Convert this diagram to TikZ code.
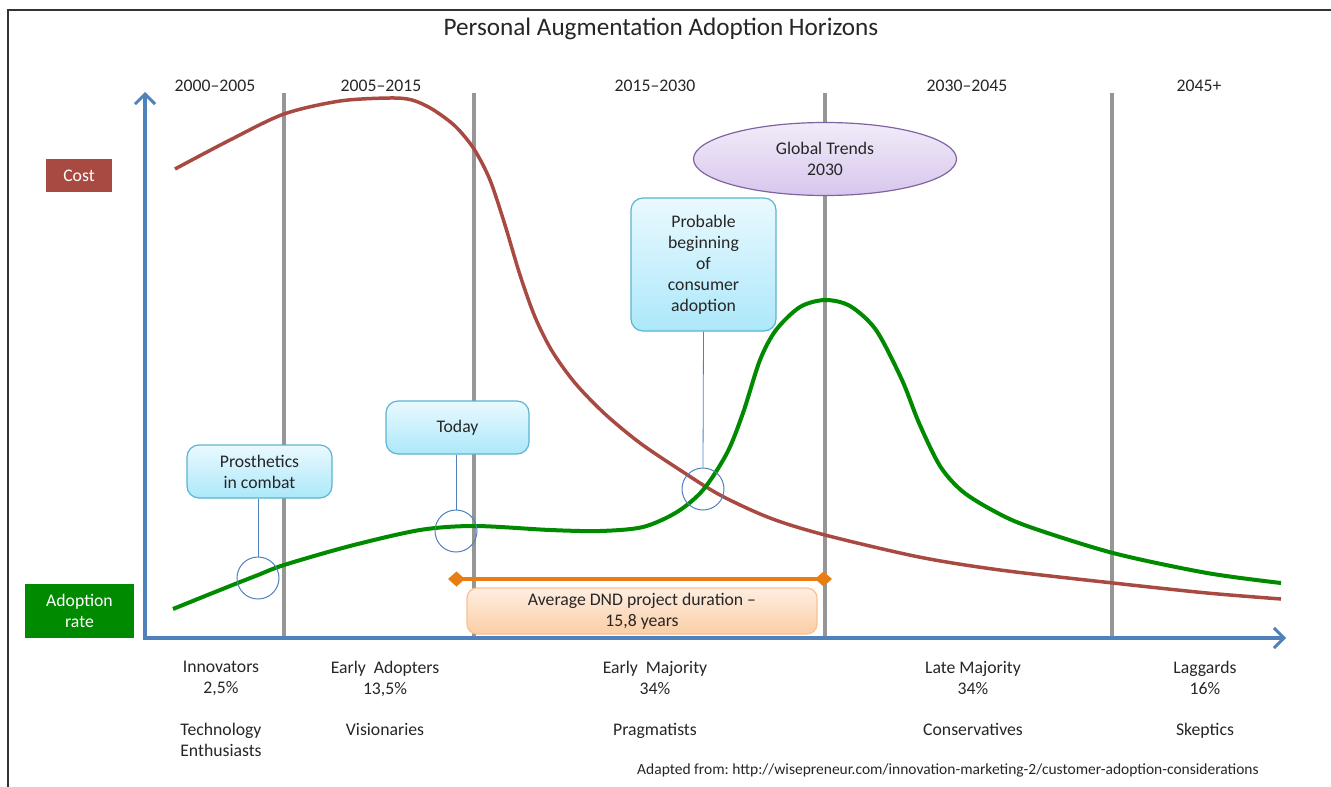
\documentclass[tikz,border=0pt]{standalone}
\usepackage{fontspec}
\setmainfont{Carlito}
\usetikzlibrary{shapes.geometric,arrows.meta,positioning}

\definecolor{axisblue}{RGB}{79,129,189}
\definecolor{costred}{RGB}{168,74,66}
\definecolor{adoptgreen}{RGB}{0,138,0}
\definecolor{gridgray}{RGB}{150,150,150}
\definecolor{durorange}{RGB}{232,125,18}
\definecolor{txtgray}{RGB}{38,38,38}
\definecolor{noteborder}{RGB}{90,180,210}
\definecolor{notetop}{RGB}{234,249,254}
\definecolor{notebottom}{RGB}{172,232,250}
\definecolor{trendborder}{RGB}{128,100,162}
\definecolor{trendtop}{RGB}{242,236,249}
\definecolor{trendbottom}{RGB}{215,198,236}
\definecolor{durborder}{RGB}{250,192,143}
\definecolor{durtop}{RGB}{254,238,225}
\definecolor{durbottom}{RGB}{251,206,166}

\begin{document}
\begin{tikzpicture}[x=1pt, y=-1pt]
  \tikzset{
    every node/.style={font=\fontsize{17.7}{21}\selectfont, text=txtgray},
    period/.style={draw=none},
    stage/.style={draw=none, align=center, anchor=north, inner sep=0pt},
    group/.style={draw=none, align=center, inner sep=0pt},
    keybox/.style={draw=none, text=white, align=center, inner sep=0pt},
    notebox/.style={draw=noteborder, line width=1.2pt, rounded corners=12pt,
      top color=notetop, bottom color=notebottom, align=center, inner sep=0pt},
    trendbox/.style={ellipse, draw=trendborder, line width=1.2pt,
      top color=trendtop, bottom color=trendbottom, align=center, inner sep=0pt},
    durbox/.style={draw=durborder, line width=1.2pt, rounded corners=10pt,
      top color=durtop, bottom color=durbottom, align=center, inner sep=0pt},
    marker/.style={circle, draw=axisblue, line width=1pt, minimum size=42pt, inner sep=0pt},
    leader/.style={draw=axisblue, line width=0.8pt},
    axis/.style={draw=axisblue, line width=4pt,
      -{Straight Barb[length=10pt, width=20pt, line width=3pt]}},
    divider/.style={draw=gridgray, line width=4pt},
    costline/.style={draw=costred, line width=3.5pt},
    adoptline/.style={draw=adoptgreen, line width=4pt},
    span/.style={draw=durorange, line width=4pt,
      {Diamond[length=17pt, width=15pt]}-{Diamond[length=17pt, width=15pt]}},
  }

  \useasboundingbox (0,0) rectangle (1331,787);
  \draw[line width=1.2pt, black!80] (8,787) -- (8,10) -- (1331,10);

  \node[font=\fontsize{25.2}{30}\selectfont] (title) at (661,29) {Personal Augmentation Adoption Horizons};

  % time periods
  \foreach \x/\n in {284/d1, 474/d2, 825/d3, 1112/d4} {
    \coordinate (\n top) at (\x,93);
    \coordinate (\n bot) at (\x,637);
    \draw[divider] (\n top) -- (\n bot);
  }
  \node[period] (p1) at (215,86) {2000--2005};
  \node[period] (p2) at (381,86) {2005--2015};
  \node[period] (p3) at (655,86) {2015--2030};
  \node[period] (p4) at (967,86) {2030--2045};
  \node[period] (p5) at (1199,86) {2045+};

  % axes
  \coordinate (origin) at (145,638);
  \coordinate (ytop) at (145,92);
  \coordinate (xend) at (1286,638);
  \draw[axis] (origin) -- (ytop);
  \draw[axis] ([xshift=-2pt]origin) -- (xend);

  \node[keybox, fill=costred, minimum width=66pt, minimum height=33pt] (cost) at (79,175.5) {Cost};
  \node[keybox, fill=adoptgreen, minimum width=109pt, minimum height=54pt] (rate) at (79.5,611) {Adoption\\rate};

  % curves
  \draw[costline] plot[smooth, tension=0.5] coordinates {
    (175,169) (230,140) (284,114) (340,101) (390,98) (412,100) (432,109)
    (455,126) (474,149) (490,180) (505,225) (520,275) (535,317) (552,351)
    (575,383) (605,414) (640,443) (680,470) (720,495) (770,518) (825,535)
    (919,557) (1000,570) (1113,583) (1207,593) (1281,599)};
  \draw[adoptline] plot[smooth, tension=0.5] coordinates {
    (173,609) (220,590) (258,575) (284,565) (350,546) (420,530) (475,526)
    (550,530) (600,531) (643,527) (677,512) (703,490) (727,453) (743,413)
    (760,360) (776,330) (800,307) (825,300) (850,306) (876,330) (902,380)
    (919,423) (940,466) (962,491) (992,510) (1027,526) (1113,553) (1207,573)
    (1281,583)};

  % notes
  \node[trendbox, minimum width=263pt, minimum height=73pt] (trends) at (825,159) {Global Trends\\2030};
  \node[notebox, minimum width=145pt, minimum height=133pt] (probable) at (703.5,264.5)
    {Probable\\beginning\\of\\consumer\\adoption};
  \node[notebox, minimum width=143pt, minimum height=53pt] (today) at (457.5,427.5) {Today};
  \node[notebox, minimum width=145pt, minimum height=53pt] (prost) at (259.5,471.5) {Prosthetics\\in combat};

  \node[marker] (prostmark) at (258,578) {};
  \node[marker] (todaymark) at (456,531) {};
  \node[marker] (probmark) at (703,489) {};
  \draw[leader] (prost.south -| prostmark) -- (prostmark.north);
  \draw[leader] (today.south -| todaymark) -- (todaymark.north);
  \draw[leader] (probable.south) -- (probmark.north);

  % project duration
  \coordinate (spanL) at (448,579);
  \coordinate (spanR) at (832,579);
  \draw[span] (spanL) -- (spanR);
  \node[durbox, minimum width=350pt, minimum height=46pt] (dur) at (642,611)
    {Average DND project duration --\\15,8 years};

  % adopter categories
  \node[stage] (innov) at (221,661) {Innovators\\2,5\%};
  \node[stage] (early) at (385,661) {Early\ \ Adopters\\13,5\%};
  \node[stage] (emaj) at (655,661) {Early\ \ Majority\\34\%};
  \node[stage] (lmaj) at (973,661) {Late Majority\\34\%};
  \node[stage] (lag) at (1205,661) {Laggards\\16\%};
  \node[group, anchor=north] (tech) at (221,723) {Technology\\Enthusiasts};
  \node[group, anchor=north] (vis) at (385,723) {Visionaries};
  \node[group, anchor=north] (prag) at (655,723) {Pragmatists};
  \node[group, anchor=north] (cons) at (973,723) {Conservatives};
  \node[group, anchor=north] (skep) at (1205,723) {Skeptics};

  \node[font=\fontsize{15.5}{18}\selectfont\frenchspacing] (source) at (948,770)
    {Adapted from: http://wisepreneur.com/innovation-marketing-2/customer-adoption-considerations};
\end{tikzpicture}
\end{document}
